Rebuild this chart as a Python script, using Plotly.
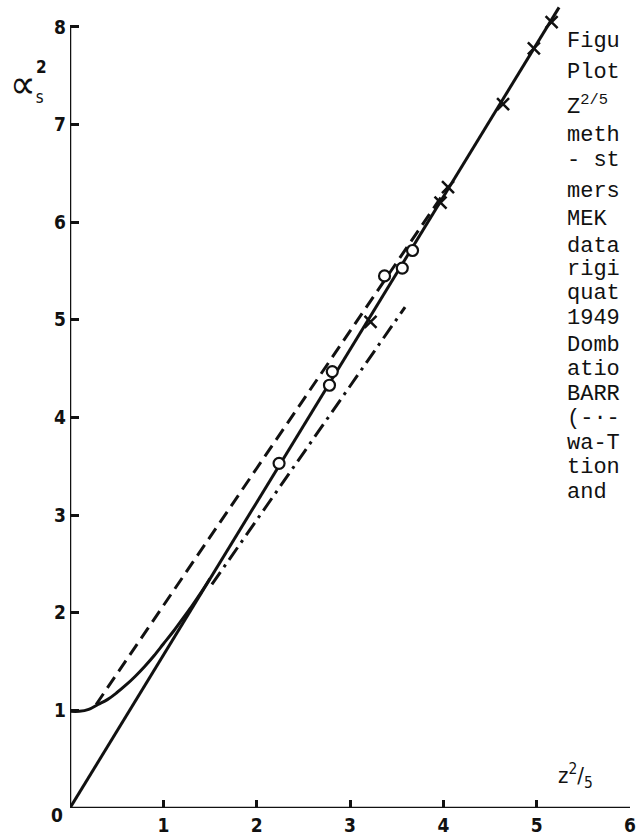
import plotly.graph_objects as go

# Straight solid line through the origin, alpha_s^2 proportional to z^(2/5)
line_z = [0.0, 5.24]
line_a = [0.0, 8.20]

# Solid curve that starts at alpha_s^2 = 1 and merges into the straight line
curve_z = [0.0, 0.1, 0.2, 0.3, 0.4, 0.5, 0.6, 0.7, 0.8, 0.9, 1.0, 1.1, 1.2, 1.3, 1.4, 1.5]
curve_a = [0.99, 0.99, 1.01, 1.06, 1.11, 1.18, 1.26, 1.35, 1.45, 1.56, 1.68, 1.80, 1.93, 2.06, 2.20, 2.35]

# Dashed line
dash_z = [0.28, 4.05]
dash_a = [1.06, 6.36]

# Dash-dot line
dashdot_z = [1.52, 3.59]
dashdot_a = [2.29, 5.13]

# Open-circle data points
circle_z = [2.24, 2.78, 2.81, 3.37, 3.56, 3.67]
circle_a = [3.53, 4.33, 4.47, 5.45, 5.53, 5.71]

# Cross data points
cross_z = [3.22, 3.97, 4.05, 4.64, 4.97, 5.16]
cross_a = [4.98, 6.20, 6.36, 7.21, 7.78, 8.05]

x_ticks = [1, 2, 3, 4, 5, 6]
y_ticks = [1, 2, 3, 4, 5, 6, 7, 8]

# Caption fragments on the right-hand side and their vertical positions (px from top)
caption_lines = ["Figu", "Plot", "Z<sup>2/5</sup>", "meth", "- st", "mers", "MEK", "data",
                 "rigi", "quat", "1949", "Domb", "atio", "BARR", "(-·-", "wa-T", "tion", "and"]
caption_y = [42, 73, 106, 136, 161, 192, 220, 247, 271, 295, 320, 347, 371, 396, 420, 445, 469, 494]

W, H = 636, 836
ML, MR, MT, MB = 70, 1, 0, 25
plot_w = W - ML - MR
plot_h = H - MT - MB
y_top = plot_h / 98.0

AX_FONT = "DejaVu Sans Condensed, Liberation Sans Narrow, Liberation Sans, sans-serif"
TT_FONT = "Liberation Mono, DejaVu Sans Mono, monospace"
INK = "#111111"


def px_x(px):
    return (px - ML) / plot_w


def px_y(py):
    return 1 - (py - MT) / plot_h


fig = go.Figure()

fig.add_trace(go.Scatter(x=line_z, y=line_a, mode="lines",
                         line=dict(color=INK, width=3)))
fig.add_trace(go.Scatter(x=curve_z, y=curve_a, mode="lines",
                         line=dict(color=INK, width=3, shape="spline")))
fig.add_trace(go.Scatter(x=dash_z, y=dash_a, mode="lines",
                         line=dict(color=INK, width=3, dash="13px,7px")))
fig.add_trace(go.Scatter(x=dashdot_z, y=dashdot_a, mode="lines",
                         line=dict(color=INK, width=3, dash="15px,6px,3px,6px")))
fig.add_trace(go.Scatter(x=cross_z, y=cross_a, mode="markers",
                         marker=dict(symbol="x-thin", size=12, color=INK,
                                     line=dict(color=INK, width=2.5))))
fig.add_trace(go.Scatter(x=circle_z, y=circle_a, mode="markers",
                         marker=dict(symbol="circle", size=11, color="white",
                                     line=dict(color=INK, width=2.2))))

# Axis lines (y axis stops at 8, x axis at 6)
fig.add_shape(type="line", xref="x", yref="y", x0=0, y0=0, x1=0, y1=8,
              line=dict(color=INK, width=2.5))
fig.add_shape(type="line", xref="x", yref="y", x0=0, y0=0, x1=6, y1=0,
              line=dict(color=INK, width=2.5))

annotations = [
    # origin label
    dict(x=0, y=0, xref="x", yref="y", text="0", showarrow=False,
         xanchor="center", yanchor="middle", xshift=-13, yshift=-7,
         font=dict(family=AX_FONT, size=19, color=INK, weight="bold")),
    # y-axis title
    dict(x=px_x(27), y=px_y(84), xref="paper", yref="paper",
         text="<span style='font-size:40px'>∝</span><sub>s</sub>",
         showarrow=False, xanchor="center", yanchor="middle",
         font=dict(family=AX_FONT, size=24, color=INK)),
    dict(x=px_x(41), y=px_y(67), xref="paper", yref="paper", text="2",
         showarrow=False, xanchor="center", yanchor="middle",
         font=dict(family=AX_FONT, size=17, color=INK, weight="bold")),
    # x-axis title
    dict(x=px_x(580), y=px_y(779), xref="paper", yref="paper",
         text="z<sup>2</sup>/<sub>5</sub>", showarrow=False,
         xanchor="center", yanchor="middle",
         font=dict(family=AX_FONT, size=22, color=INK)),
]

# Caption text
for txt, py in zip(caption_lines, caption_y):
    annotations.append(dict(x=px_x(569), y=px_y(py), xref="paper", yref="paper",
                            text=txt, showarrow=False, xanchor="left", yanchor="middle",
                            font=dict(family=TT_FONT, size=22, color=INK)))

fig.update_layout(
    width=W, height=H,
    margin=dict(l=ML, r=MR, t=MT, b=MB, pad=0),
    paper_bgcolor="white", plot_bgcolor="white",
    showlegend=False,
    annotations=annotations,
    xaxis=dict(range=[0, 6], tickvals=x_ticks, ticktext=[str(v) for v in x_ticks],
               ticks="inside", ticklen=8, tickwidth=2.5, tickcolor=INK,
               showline=False, showgrid=False, zeroline=False,
               tickfont=dict(family=AX_FONT, size=19, color=INK, weight="bold"),
               ticklabelstandoff=4, ticklabeloverflow="allow"),
    yaxis=dict(range=[0, y_top], tickvals=y_ticks, ticktext=[str(v) for v in y_ticks],
               ticks="inside", ticklen=9, tickwidth=2.5, tickcolor=INK,
               showline=False, showgrid=False, zeroline=False,
               tickfont=dict(family=AX_FONT, size=19, color=INK, weight="bold"),
               ticklabelstandoff=3, ticklabeloverflow="allow"),
)

fig.write_html("out.html")
